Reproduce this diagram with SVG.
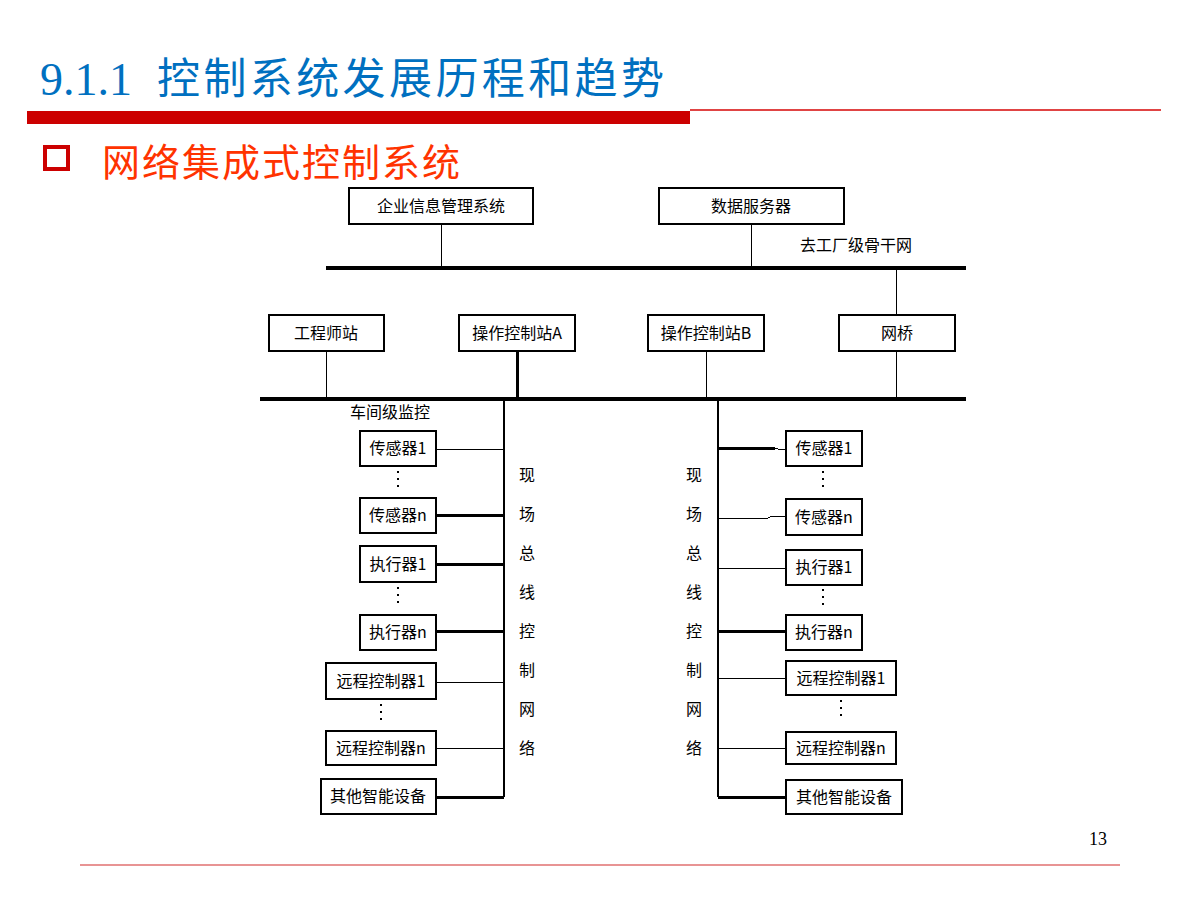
<svg xmlns="http://www.w3.org/2000/svg" width="1200" height="900" viewBox="0 0 1200 900">
<style>
  .box { fill: #ffffff; stroke: #000000; stroke-width: 1.5; shape-rendering: crispEdges; }
  .lbl { font-family: "Noto Sans CJK SC", "Liberation Sans", sans-serif; font-size: 16px; fill: #000000; text-anchor: middle; }
  .lblL { font-family: "Noto Sans CJK SC", "Liberation Sans", sans-serif; font-size: 16px; fill: #000000; }
  .thin { stroke: #000000; stroke-width: 1; fill: none; shape-rendering: crispEdges; }
  .mid { stroke: #000000; stroke-width: 1.5; fill: none; shape-rendering: crispEdges; }
  .thick { stroke: #000000; stroke-width: 3; fill: none; shape-rendering: crispEdges; }
  .bus { stroke: #000000; stroke-width: 4; fill: none; shape-rendering: crispEdges; }
  .dots { stroke: #000000; stroke-width: 1.5; stroke-dasharray: 2 5; fill: none; shape-rendering: crispEdges; }
  .vert { font-family: "Noto Sans CJK SC", sans-serif; font-size: 16px; fill: #000000; text-anchor: middle; }
</style>
<rect x="0" y="0" width="1200" height="900" fill="#ffffff"/>

<!-- Header -->
<g id="header">
  <text x="40" y="95" font-family="Liberation Serif, serif" font-size="46" fill="#0070C0">9.1.1</text>
  <text x="157" y="94" font-family="Noto Sans CJK SC, sans-serif" font-size="43" fill="#0070C0" textLength="507" lengthAdjust="spacing">控制系统发展历程和趋势</text>
  <rect x="27" y="111" width="663" height="13" fill="#CC0000"/>
  <line x1="690" y1="110" x2="1161" y2="110" stroke="#E04444" stroke-width="2"/>
  <rect x="45" y="147" width="23" height="22" fill="none" stroke="#CC0000" stroke-width="4"/>
  <text x="102" y="176" font-family="Noto Sans CJK SC, sans-serif" font-size="38" fill="#FF3300" textLength="358" lengthAdjust="spacing">网络集成式控制系统</text>
</g>

<!-- Connectors -->
<g id="connectors">
  <line class="bus" x1="326" y1="268" x2="966" y2="268"/>
  <line class="bus" x1="260" y1="399" x2="966" y2="399"/>
  <line class="thin" x1="441" y1="224" x2="441" y2="268"/>
  <line class="thin" x1="751" y1="224" x2="751" y2="268"/>
  <line class="thin" x1="896" y1="268" x2="896" y2="315"/>
  <line class="thin" x1="326" y1="351" x2="326" y2="399"/>
  <line class="thick" x1="517" y1="351" x2="517" y2="399"/>
  <line class="thin" x1="706" y1="351" x2="706" y2="399"/>
  <line class="thin" x1="896" y1="351" x2="896" y2="399"/>
  <!-- left field bus -->
  <line class="mid" x1="504" y1="399" x2="504" y2="797"/>
  <line class="thin" x1="436" y1="449" x2="504" y2="449"/>
  <line class="thick" x1="436" y1="515" x2="504" y2="515"/>
  <line class="thick" x1="436" y1="564" x2="504" y2="564"/>
  <line class="thick" x1="436" y1="631" x2="504" y2="631"/>
  <line class="thin" x1="436" y1="682" x2="504" y2="682"/>
  <line class="thin" x1="436" y1="748" x2="504" y2="748"/>
  <line class="thick" x1="436" y1="797" x2="504" y2="797"/>
  <!-- right field bus -->
  <line class="mid" x1="718" y1="399" x2="718" y2="797"/>
  <line class="thick" x1="718" y1="448" x2="775" y2="448"/>
  <polyline class="thin" points="775,448 778,449 786,449"/>
  <polyline class="thin" points="718,518 768,518 772,516 786,516"/>
  <line class="thin" x1="718" y1="568" x2="786" y2="568"/>
  <line class="thick" x1="718" y1="631" x2="786" y2="631"/>
  <line class="thin" x1="718" y1="678" x2="786" y2="678"/>
  <line class="thin" x1="718" y1="748" x2="786" y2="748"/>
  <line class="thick" x1="718" y1="797" x2="786" y2="797"/>
  <!-- ellipsis dots -->
  <line class="dots" x1="398" y1="471" x2="398" y2="490"/>
  <line class="dots" x1="398" y1="587" x2="398" y2="605"/>
  <line class="dots" x1="381" y1="704" x2="381" y2="721"/>
  <line class="dots" x1="823" y1="471" x2="823" y2="489"/>
  <line class="dots" x1="823" y1="589" x2="823" y2="606"/>
  <line class="dots" x1="841" y1="700" x2="841" y2="718"/>
</g>

<!-- Network labels -->
<g id="net-labels">
  <text class="lblL" x="800" y="251">去工厂级骨干网</text>
  <text class="lblL" x="350" y="418">车间级监控</text>
  <text class="vert" x="527" y="481">现</text>
  <text class="vert" x="527" y="520">场</text>
  <text class="vert" x="527" y="559">总</text>
  <text class="vert" x="527" y="598">线</text>
  <text class="vert" x="527" y="637">控</text>
  <text class="vert" x="527" y="676">制</text>
  <text class="vert" x="527" y="715">网</text>
  <text class="vert" x="527" y="754">络</text>
  <text class="vert" x="694" y="481">现</text>
  <text class="vert" x="694" y="520">场</text>
  <text class="vert" x="694" y="559">总</text>
  <text class="vert" x="694" y="598">线</text>
  <text class="vert" x="694" y="637">控</text>
  <text class="vert" x="694" y="676">制</text>
  <text class="vert" x="694" y="715">网</text>
  <text class="vert" x="694" y="754">络</text>
</g>

<!-- Top level -->
<g id="erp"><rect class="box" x="349" y="188" width="184" height="36"/><text class="lbl" x="441" y="212">企业信息管理系统</text></g>
<g id="dataserver"><rect class="box" x="659" y="188" width="185" height="36"/><text class="lbl" x="751" y="212">数据服务器</text></g>

<!-- Workshop level -->
<g id="engstation"><rect class="box" x="269" y="315" width="115" height="36"/><text class="lbl" x="326" y="339">工程师站</text></g>
<g id="opstationA"><rect class="box" x="459" y="315" width="116" height="36"/><text class="lbl" x="517" y="339">操作控制站A</text></g>
<g id="opstationB"><rect class="box" x="648" y="315" width="116" height="36"/><text class="lbl" x="706" y="339">操作控制站B</text></g>
<g id="bridge"><rect class="box" x="839" y="315" width="116" height="36"/><text class="lbl" x="897" y="339">网桥</text></g>

<!-- Left field devices -->
<g id="L-sensor1"><rect class="box" x="360" y="431" width="76" height="35"/><text class="lbl" x="398" y="454">传感器1</text></g>
<g id="L-sensorn"><rect class="box" x="360" y="498" width="76" height="35"/><text class="lbl" x="398" y="521">传感器n</text></g>
<g id="L-actuator1"><rect class="box" x="360" y="546" width="76" height="36"/><text class="lbl" x="398" y="570">执行器1</text></g>
<g id="L-actuatorn"><rect class="box" x="360" y="615" width="76" height="35"/><text class="lbl" x="398" y="638">执行器n</text></g>
<g id="L-rc1"><rect class="box" x="326" y="663" width="110" height="36"/><text class="lbl" x="381" y="687">远程控制器1</text></g>
<g id="L-rcn"><rect class="box" x="326" y="731" width="110" height="34"/><text class="lbl" x="381" y="754">远程控制器n</text></g>
<g id="L-other"><rect class="box" x="321" y="779" width="115" height="35"/><text class="lbl" x="378" y="802">其他智能设备</text></g>

<!-- Right field devices -->
<g id="R-sensor1"><rect class="box" x="786" y="431" width="76" height="35"/><text class="lbl" x="824" y="454">传感器1</text></g>
<g id="R-sensorn"><rect class="box" x="786" y="499" width="76" height="36"/><text class="lbl" x="824" y="523">传感器n</text></g>
<g id="R-actuator1"><rect class="box" x="786" y="550" width="76" height="35"/><text class="lbl" x="824" y="573">执行器1</text></g>
<g id="R-actuatorn"><rect class="box" x="786" y="615" width="76" height="35"/><text class="lbl" x="824" y="638">执行器n</text></g>
<g id="R-rc1"><rect class="box" x="786" y="661" width="110" height="34"/><text class="lbl" x="841" y="684">远程控制器1</text></g>
<g id="R-rcn"><rect class="box" x="786" y="732" width="110" height="32"/><text class="lbl" x="841" y="754">远程控制器n</text></g>
<g id="R-other"><rect class="box" x="786" y="780" width="116" height="34" stroke-width="2"/><text class="lbl" x="844" y="803">其他智能设备</text></g>

<!-- Footer -->
<g id="footer">
  <text x="1107" y="845" font-family="Liberation Serif, serif" font-size="18" fill="#000000" text-anchor="end">13</text>
  <line x1="80" y1="865" x2="1120" y2="865" stroke="#E07070" stroke-width="1.5"/>
</g>
</svg>
